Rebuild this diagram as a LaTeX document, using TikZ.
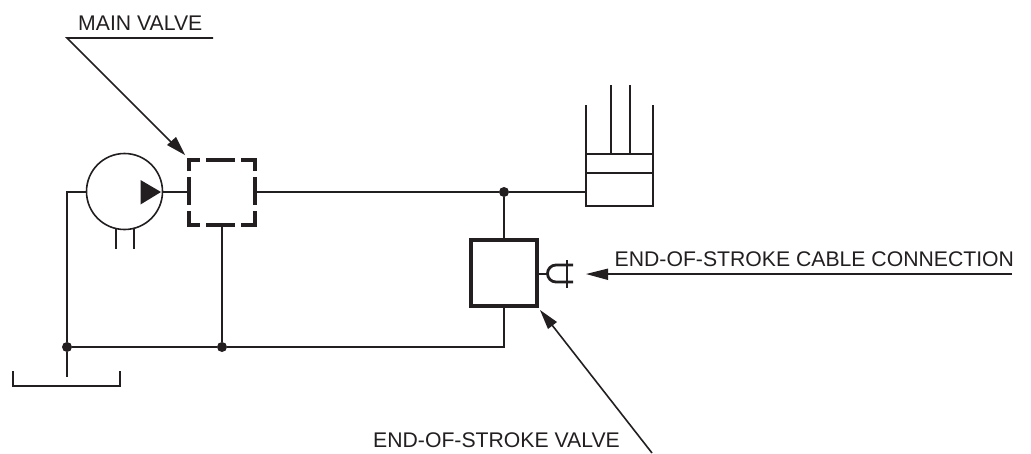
\documentclass[tikz,border=0pt]{standalone}
\usepackage{fontspec}
\setmainfont{Liberation Sans}
\definecolor{ink}{HTML}{231F20}
\tikzset{
 thin line/.style={line width=1.6pt,draw=ink},
 thick box/.style={line width=3.2pt,draw=ink},
 dashpart/.style={line width=3.2pt,draw=ink},
 dotnode/.style={circle,fill=ink,inner sep=0pt,minimum size=10pt},
 lab/.style={inner sep=0pt,text=ink,font=\fontsize{21.2}{23}\selectfont,anchor=base west},
 tip/.style={fill=ink,draw=none}
}
\begin{document}
\begin{tikzpicture}[x=1pt,y=-1pt]
\useasboundingbox (0,0) rectangle (1031,453);
% named points
\coordinate (mlA) at (67,38); \coordinate (mlB) at (213,38);
\coordinate (circC) at (124.5,191.5);
\coordinate (pumpL) at (86.5,192); \coordinate (pumpR) at (162.5,192);
\coordinate (corner) at (67,192);
\coordinate (vL) at (189,192); \coordinate (vR) at (255,192);
\coordinate (vB) at (222,225);
\coordinate (cylL) at (586,192);
% labels
\node[lab] (t1) at (78,30) {MAIN VALVE};
\node[lab] (t2) at (614.5,266) {END-OF-STROKE CABLE CONNECTION};
\node[lab] (t3) at (373,447) {END-OF-STROKE VALVE};
% junctions
\node[dotnode] (j1) at (504,192) {};
\node[dotnode] (j2) at (67,347) {};
\node[dotnode] (j3) at (222,347) {};
% pump
\draw[thin line] (circC) circle (38);
\fill[tip] (140.5,180) -- (161,192) -- (140.5,204.5) -- cycle;
\draw[thin line] (116,229) -- (116,249) (134,229) -- (134,249);
% main valve dashed box
\draw[dashpart] (189,171) -- (189,160) -- (200,160) (206,160) -- (235,160) (241,160) -- (255,160) -- (255,171)
 (189,177) -- (189,205) (255,177) -- (255,205)
 (189,211) -- (189,225) -- (200,225) (206,225) -- (235,225) (241,225) -- (255,225) -- (255,211);
% cylinder
\draw[thin line] (586,105) -- (586,206) -- (653,206) -- (653,105)
 (586,154) -- (653,154) (586,173) -- (653,173)
 (611,85) -- (611,154) (630,85) -- (630,154);
% end-of-stroke valve
\draw[thick box] (471,240) rectangle (537,306);
% connector symbol
\draw[thin line] (537,274) -- (547,274);
\draw[line width=2.8pt,draw=ink] (573,265) -- (556,265) arc[start angle=270,end angle=90,radius=8.5] -- (573,282);
\draw[thin line] (567,260) -- (567,288);
% tank
\draw[thin line] (13,371) -- (13,386) -- (120,386) -- (120,371);
% pipes
\draw[thin line] (pumpL) -- (corner) -- (j2) -- (67,377);
\draw[thin line] (pumpR) -- (vL);
\draw[thin line] (vR) -- (j1) -- (cylL);
\draw[thin line] (j1) -- (504,240);
\draw[thin line] (504,306) -- (504,347) -- (j3) -- (j2);
\draw[thin line] (vB) -- (j3);
% leaders
\draw[thin line] (mlB) -- (mlA) -- (176,147);
\fill[tip] (185,155) -- (167,145) -- (176,137) -- cycle;
\draw[thin line] (1012,274) -- (605,274);
\fill[tip] (586,274) -- (608,268.5) -- (608,280) -- cycle;
\draw[thin line] (652,453) -- (552,325);
\fill[tip] (540,310) -- (557,322) -- (548,329) -- cycle;
\end{tikzpicture}
\end{document}
